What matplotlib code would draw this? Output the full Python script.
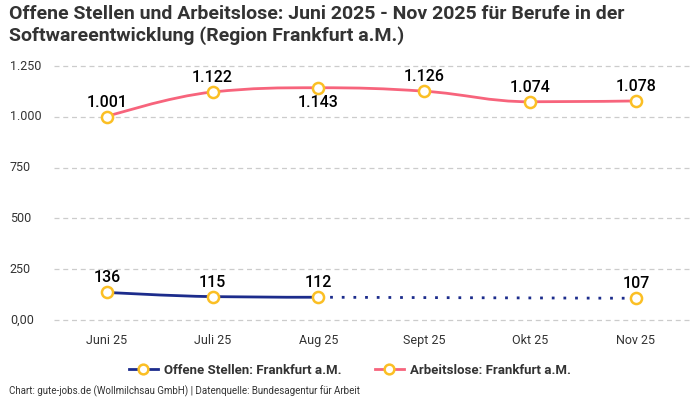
import matplotlib

matplotlib.use("Agg")
import matplotlib.pyplot as plt
import matplotlib.transforms as mtransforms
from matplotlib.lines import Line2D
from matplotlib.path import Path
from matplotlib.patches import PathPatch

months = ["Juni 25", "Juli 25", "Aug 25", "Sept 25", "Okt 25", "Nov 25"]
offene_stellen = [136, 115, 112, None, None, 107]
arbeitslose = [1001, 1122, 1143, 1126, 1074, 1078]
label_below_arbeitslose = [False, False, True, False, False, False]
y_ticks = [0, 250, 500, 750, 1000, 1250]
y_tick_labels = ["0,00", "250", "500", "750", "1.000", "1.250"]

NAVY = "#1c2c8c"
PINK = "#f7647c"
GOLD = "#fbbf24"
TEXT = "#333333"

plt.rcParams["font.family"] = ["Roboto", "DejaVu Sans"]

fig = plt.figure(figsize=(7, 4), dpi=100)
ax = fig.add_axes([0.077, 0.2, 0.907, 0.635])


def spline_path(xs, ys):
    # Highcharts-artiger Spline (smoothing 1.5) in Datenkoordinaten
    verts = [(xs[0], ys[0])]
    codes = [Path.MOVETO]
    n = len(xs)
    ctrl = []
    for i in range(n):
        if i == 0 or i == n - 1:
            ctrl.append(((xs[i], ys[i]), (xs[i], ys[i])))
            continue
        lx = (1.5 * xs[i] + xs[i - 1]) / 2.5
        ly = (1.5 * ys[i] + ys[i - 1]) / 2.5
        rx = (1.5 * xs[i] + xs[i + 1]) / 2.5
        ry = (1.5 * ys[i] + ys[i + 1]) / 2.5
        corr = (ry - ly) * (rx - xs[i]) / (rx - lx) + ys[i] - ry
        ly += corr
        ry += corr
        if ly > ys[i - 1] and ly > ys[i]:
            ly = max(ys[i - 1], ys[i]); ry = 2 * ys[i] - ly
        elif ly < ys[i - 1] and ly < ys[i]:
            ly = min(ys[i - 1], ys[i]); ry = 2 * ys[i] - ly
        if ry > ys[i + 1] and ry > ys[i]:
            ry = max(ys[i + 1], ys[i]); ly = 2 * ys[i] - ry
        elif ry < ys[i + 1] and ry < ys[i]:
            ry = min(ys[i + 1], ys[i]); ly = 2 * ys[i] - ry
        ctrl.append(((lx, ly), (rx, ry)))
    for i in range(1, n):
        verts += [ctrl[i - 1][1], ctrl[i][0], (xs[i], ys[i])]
        codes += [Path.CURVE4] * 3
    return Path(verts, codes)


x_all = list(range(len(months)))
marker_kw = dict(ls="none", marker="o", ms=8, mfc="white", mec=GOLD, mew=1.8,
                 zorder=5, clip_on=False)
label_kw = dict(textcoords="offset points", ha="center", fontsize=11.5,
                fontweight="medium", color="black", zorder=6)

# Arbeitslose
ax.add_patch(PathPatch(spline_path(x_all, arbeitslose), fill=False,
                       edgecolor=PINK, lw=2, zorder=3, clip_on=False))
ax.plot(x_all, arbeitslose, **marker_kw)
for x, v, below in zip(x_all, arbeitslose, label_below_arbeitslose):
    txt = f"{v:,}".replace(",", ".")
    ax.annotate(txt, (x, v), xytext=(0, -5 if below else 5),
                va="top" if below else "bottom", **label_kw)

# Offene Stellen
solid_x = [x for x, v in zip(x_all, offene_stellen) if v is not None]
solid_y = [v for v in offene_stellen if v is not None]
ax.add_patch(PathPatch(spline_path(solid_x[:3], solid_y[:3]), fill=False,
                       edgecolor=NAVY, lw=2, zorder=3, clip_on=False))
ax.plot(solid_x[2:], solid_y[2:], color=NAVY, lw=2, ls=(0, (1, 3.2)), zorder=3)
ax.plot(solid_x, solid_y, **marker_kw)
for x, v in zip(solid_x, solid_y):
    ax.annotate(str(v), (x, v), xytext=(0, 5), va="bottom", **label_kw)

ax.set_xlim(-0.5, len(months) - 0.5)
ax.set_ylim(0, 1250)
ax.set_xticks(x_all, months)
ax.set_yticks(y_ticks, [""] * len(y_ticks))
ax.tick_params(axis="both", length=0, labelsize=9, colors=TEXT)
ax.tick_params(axis="x", pad=10)
ytrans = mtransforms.blended_transform_factory(fig.transFigure, ax.transData)
for t, lab in zip(y_ticks, y_tick_labels):
    ax.text(0.014, t, lab, transform=ytrans, ha="left", va="center",
            fontsize=9, color=TEXT)
for s in ax.spines.values():
    s.set_visible(False)
ax.grid(axis="y", color="#cccccc", ls=(0, (4, 3)), lw=0.9)
for gl in ax.get_ygridlines():
    gl.set_clip_on(False)
ax.set_axisbelow(True)

fig.text(0.013, 0.988, "Offene Stellen und Arbeitslose: Juni 2025 - Nov 2025 für Berufe in der\n"
         "Softwareentwicklung (Region Frankfurt a.M.)", ha="left", va="top",
         fontsize=14, fontweight="bold", color=TEXT, linespacing=1.2)

handles = [Line2D([], [], color=NAVY, lw=2, marker="o", ms=7, mfc="white", mec=GOLD, mew=1.8),
           Line2D([], [], color=PINK, lw=2, marker="o", ms=7, mfc="white", mec=GOLD, mew=1.8)]
fig.legend(handles, ["Offene Stellen: Frankfurt a.M.", "Arbeitslose: Frankfurt a.M."],
           loc="center", bbox_to_anchor=(0.5, 0.075), ncol=2, frameon=False,
           prop={"size": 9.5, "weight": "bold"}, handlelength=2.2, columnspacing=2.5,
           handletextpad=0.5, labelcolor=TEXT)

fig.text(0.013, 0.008, "Chart: gute-jobs.de (Wollmilchsau GmbH) | Datenquelle: Bundesagentur für Arbeit",
         ha="left", va="bottom", fontsize=7, color=TEXT)

fig.savefig("out.png", dpi=100)
